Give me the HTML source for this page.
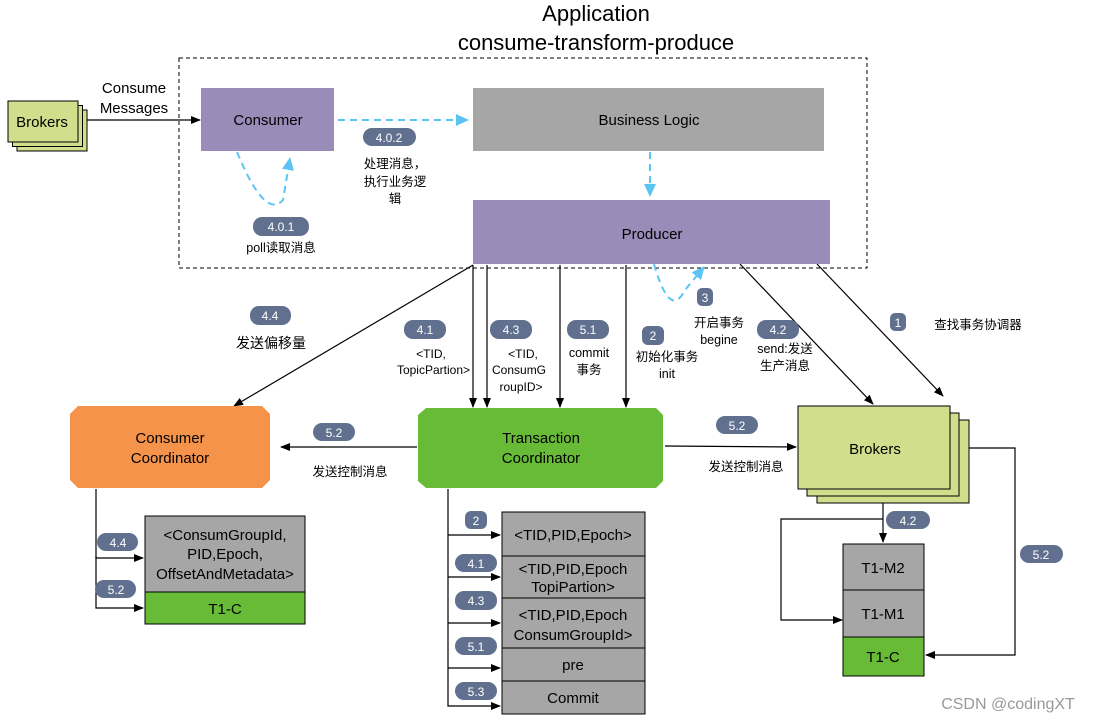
<!DOCTYPE html>
<html><head><meta charset="utf-8"><style>
html,body{margin:0;padding:0;background:#fff;}
svg{display:block;font-family:"Liberation Sans","Noto Sans CJK SC",sans-serif;}
.b{fill:#62708f;}
.bt{fill:#fff;font-size:12px;text-anchor:middle;}
.t{font-size:12.5px;fill:#000;text-anchor:middle;}
.n{font-size:15px;fill:#000;text-anchor:middle;}
.l{stroke:#000;stroke-width:1.2;fill:none;}
.d{stroke:#5bc4f5;stroke-width:2;fill:none;stroke-dasharray:7,5;}
</style></head><body>
<svg width="1097" height="722" viewBox="0 0 1097 722" xmlns="http://www.w3.org/2000/svg">
<defs>
<marker id="a" markerWidth="10" markerHeight="8" refX="9" refY="4" orient="auto" markerUnits="userSpaceOnUse"><path d="M0,0 L10,4 L0,8 Z" fill="#000"/></marker>
<marker id="ab" markerWidth="14" markerHeight="12" refX="12" refY="6" orient="auto" markerUnits="userSpaceOnUse"><path d="M0,0 L13,6 L0,12 Z" fill="#5bc4f5"/></marker>
</defs>
<text x="596" y="21" font-size="22" text-anchor="middle">Application</text>
<text x="596" y="50" font-size="22" text-anchor="middle">consume-transform-produce</text>
<rect x="179" y="58" width="688" height="210" fill="none" stroke="#000" stroke-dasharray="4,3"/>
<rect x="17" y="110" width="70" height="41" fill="#d1de8b" stroke="#000"/>
<rect x="12.5" y="105.5" width="70" height="41" fill="#d1de8b" stroke="#000"/>
<rect x="8" y="101" width="70" height="41" fill="#d1de8b" stroke="#000"/>
<text x="42" y="127" class="n">Brokers</text>
<text x="134" y="93" class="n" font-size="14">Consume</text>
<text x="134" y="113" class="n" font-size="14">Messages</text>
<line x1="87" y1="120" x2="200" y2="120" class="l" marker-end="url(#a)"/>
<rect x="201" y="88" width="133" height="63" fill="#9a8cb8"/>
<text x="268" y="125" class="n">Consumer</text>
<rect x="473" y="88" width="351" height="63" fill="#a6a6a6"/>
<text x="649" y="125" class="n">Business Logic</text>
<line x1="338" y1="120" x2="468" y2="120" class="d" marker-end="url(#ab)"/>
<rect x="363" y="128" width="53" height="18" rx="9" class="b"/><text x="389" y="142" class="bt">4.0.2</text>
<text x="395" y="168" class="t">处理消息，</text><text x="395" y="186" class="t">执行业务逻</text><text x="395" y="203" class="t">辑</text>
<path d="M237,152 Q265,220 283,200 L290,158" class="d" marker-end="url(#ab)"/>
<rect x="253" y="217" width="56" height="19" rx="9" class="b"/><text x="281" y="231" class="bt">4.0.1</text>
<text x="281" y="252" class="t">poll读取消息</text>
<line x1="650" y1="152" x2="650" y2="196" class="d" marker-end="url(#ab)"/>
<rect x="473" y="200" width="357" height="64" fill="#9a8cb8"/>
<text x="652" y="239" class="n">Producer</text>
<path d="M654,264 Q670,320 685,290 L704,267" class="d" marker-end="url(#ab)"/>
<line x1="473" y1="265" x2="234" y2="406" class="l" marker-end="url(#a)"/>
<line x1="473" y1="265" x2="473" y2="407" class="l" marker-end="url(#a)"/>
<line x1="487" y1="265" x2="487" y2="407" class="l" marker-end="url(#a)"/>
<line x1="560" y1="265" x2="560" y2="407" class="l" marker-end="url(#a)"/>
<line x1="626" y1="265" x2="626" y2="407" class="l" marker-end="url(#a)"/>
<line x1="740" y1="264" x2="873" y2="404" class="l" marker-end="url(#a)"/>
<line x1="817" y1="264" x2="943" y2="396" class="l" marker-end="url(#a)"/>
<rect x="250" y="306" width="41" height="19" rx="9" class="b"/><text x="270" y="320" class="bt">4.4</text>
<text x="271" y="348" class="t" style="font-size:14px">发送偏移量</text>
<rect x="404" y="320" width="42" height="19" rx="9" class="b"/><text x="425" y="334" class="bt">4.1</text>
<text x="431" y="358" class="t" style="font-size:12px">&lt;TID,</text><text x="470" y="374" class="t" style="font-size:12px;text-anchor:end">TopicPartion&gt;</text>
<rect x="490" y="320" width="42" height="19" rx="9" class="b"/><text x="511" y="334" class="bt">4.3</text>
<text x="523" y="358" class="t" style="font-size:12px">&lt;TID,</text><text x="492" y="374" class="t" style="font-size:12px;text-anchor:start">ConsumG</text><text x="521" y="391" class="t" style="font-size:12px">roupID&gt;</text>
<rect x="567" y="320" width="42" height="19" rx="9" class="b"/><text x="588" y="334" class="bt">5.1</text>
<text x="589" y="357" class="t">commit</text><text x="589" y="374" class="t">事务</text>
<rect x="642" y="326" width="22" height="19" rx="6" class="b"/><text x="653" y="340" class="bt">2</text>
<text x="667" y="361" class="t">初始化事务</text><text x="667" y="378" class="t">init</text>
<rect x="697" y="288" width="16" height="18" rx="5" class="b"/><text x="705" y="302" class="bt">3</text>
<text x="719" y="327" class="t">开启事务</text><text x="719" y="344" class="t">begine</text>
<rect x="757" y="320" width="42" height="19" rx="9" class="b"/><text x="778" y="334" class="bt">4.2</text>
<text x="785" y="353" class="t">send:发送</text><text x="785" y="370" class="t">生产消息</text>
<rect x="890" y="313" width="16" height="18" rx="5" class="b"/><text x="898" y="327" class="bt">1</text>
<text x="978" y="329" class="t">查找事务协调器</text>
<polygon points="78,406 262,406 270,414 270,480 262,488 78,488 70,480 70,414" fill="#f5934a"/>
<text x="170" y="443" class="n">Consumer</text><text x="170" y="463" class="n">Coordinator</text>
<polygon points="426,408 656,408 663,415 663,481 656,488 426,488 418,481 418,415" fill="#67bb37"/>
<text x="541" y="443" class="n">Transaction</text><text x="541" y="463" class="n">Coordinator</text>
<line x1="417" y1="447" x2="281" y2="447" class="l" marker-end="url(#a)"/>
<rect x="313" y="423" width="42" height="18" rx="9" class="b"/><text x="334" y="437" class="bt">5.2</text>
<text x="350" y="476" class="t">发送控制消息</text>
<line x1="665" y1="446" x2="796" y2="447" class="l" marker-end="url(#a)"/>
<rect x="716" y="416" width="42" height="18" rx="9" class="b"/><text x="737" y="430" class="bt">5.2</text>
<text x="746" y="471" class="t">发送控制消息</text>
<rect x="817" y="420" width="152" height="83" fill="#d1de8b" stroke="#000"/>
<rect x="807" y="413" width="152" height="83" fill="#d1de8b" stroke="#000"/>
<rect x="798" y="406" width="152" height="83" fill="#d1de8b" stroke="#000"/>
<text x="875" y="454" class="n">Brokers</text>
<polyline points="96,489 96,558 143,558" class="l" marker-end="url(#a)"/>
<polyline points="96,556 96,608 143,608" class="l" marker-end="url(#a)"/>
<rect x="97" y="533" width="41" height="18" rx="9" class="b"/><text x="118" y="547" class="bt">4.4</text>
<rect x="95" y="580" width="41" height="18" rx="9" class="b"/><text x="116" y="594" class="bt">5.2</text>
<rect x="145" y="516" width="160" height="76" fill="#a6a6a6" stroke="#000"/>
<text x="225" y="540" class="n">&lt;ConsumGroupId,</text><text x="225" y="559" class="n">PID,Epoch,</text><text x="225" y="579" class="n">OffsetAndMetadata&gt;</text>
<rect x="145" y="592" width="160" height="32" fill="#67bb37" stroke="#000"/>
<text x="225" y="614" class="n">T1-C</text>
<polyline points="448,489 448,706 500,706" class="l" marker-end="url(#a)"/>
<line x1="448" y1="535" x2="500" y2="535" class="l" marker-end="url(#a)"/>
<line x1="448" y1="577" x2="500" y2="577" class="l" marker-end="url(#a)"/>
<line x1="448" y1="623" x2="500" y2="623" class="l" marker-end="url(#a)"/>
<line x1="448" y1="668" x2="500" y2="668" class="l" marker-end="url(#a)"/>
<rect x="465" y="511" width="22" height="18" rx="6" class="b"/><text x="476" y="525" class="bt">2</text>
<rect x="455" y="554" width="42" height="18" rx="9" class="b"/><text x="476" y="568" class="bt">4.1</text>
<rect x="455" y="591" width="42" height="19" rx="9" class="b"/><text x="476" y="605" class="bt">4.3</text>
<rect x="455" y="637" width="42" height="18" rx="9" class="b"/><text x="476" y="651" class="bt">5.1</text>
<rect x="455" y="682" width="42" height="18" rx="9" class="b"/><text x="476" y="696" class="bt">5.3</text>
<g fill="#a6a6a6" stroke="#000">
<rect x="502" y="512" width="143" height="44"/><rect x="502" y="556" width="143" height="42"/><rect x="502" y="598" width="143" height="50"/><rect x="502" y="648" width="143" height="33"/><rect x="502" y="681" width="143" height="33"/>
</g>
<text x="573" y="540" class="n">&lt;TID,PID,Epoch&gt;</text>
<text x="573" y="574" class="n">&lt;TID,PID,Epoch</text><text x="573" y="592" class="n">TopiPartion&gt;</text>
<text x="573" y="620" class="n">&lt;TID,PID,Epoch</text><text x="573" y="640" class="n">ConsumGroupId&gt;</text>
<text x="573" y="670" class="n">pre</text>
<text x="573" y="703" class="n">Commit</text>
<line x1="883" y1="503" x2="883" y2="542" class="l" marker-end="url(#a)"/>
<polyline points="883,519 781,519 781,620 842,620" class="l" marker-end="url(#a)"/>
<polyline points="969,448 1015,448 1015,655 926,655" class="l" marker-end="url(#a)"/>
<rect x="886" y="511" width="44" height="18" rx="9" class="b"/><text x="908" y="525" class="bt">4.2</text>
<rect x="1020" y="545" width="43" height="18" rx="9" class="b"/><text x="1041" y="559" class="bt">5.2</text>
<rect x="843" y="544" width="81" height="46" fill="#a6a6a6" stroke="#000"/>
<rect x="843" y="590" width="81" height="47" fill="#a6a6a6" stroke="#000"/>
<rect x="843" y="637" width="81" height="39" fill="#67bb37" stroke="#000"/>
<text x="883" y="573" class="n">T1-M2</text><text x="883" y="619" class="n">T1-M1</text><text x="883" y="662" class="n">T1-C</text>
<text x="1008" y="709" font-size="16" fill="#999" text-anchor="middle">CSDN @codingXT</text>
</svg>
</body></html>
